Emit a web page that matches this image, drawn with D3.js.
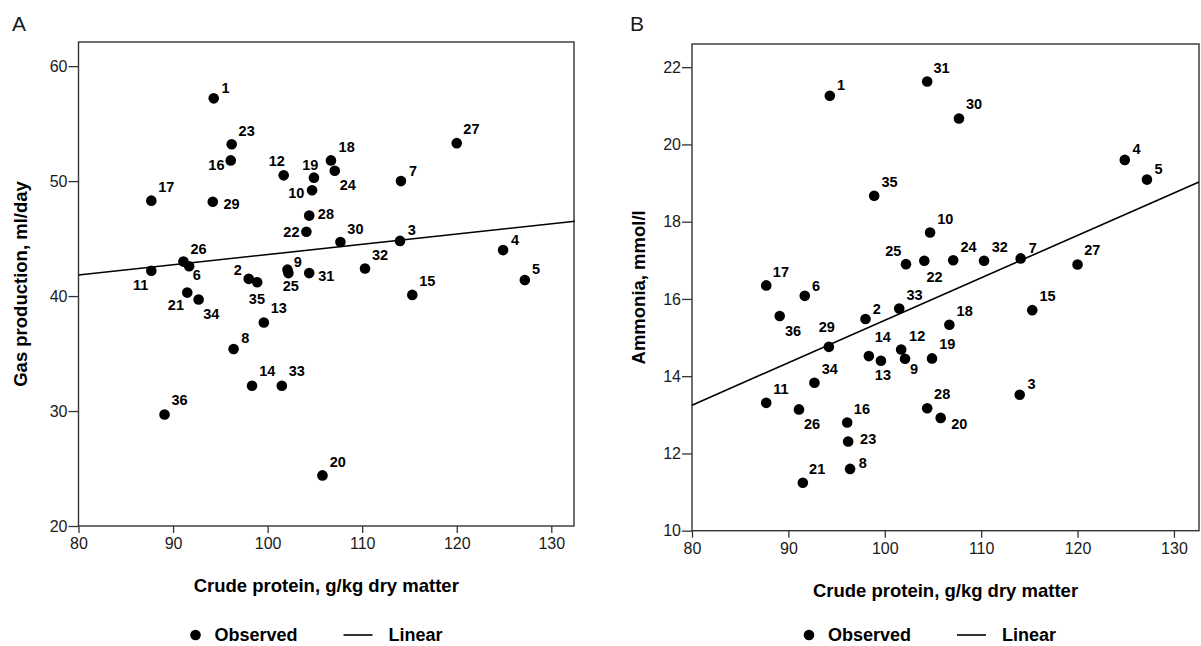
<!DOCTYPE html>
<html><head><meta charset="utf-8">
<script src="https://cdn.jsdelivr.net/npm/d3@7"></script>
<style>
body{margin:0;background:#fff}
svg{display:block}
text{font-family:"Liberation Sans",Arial,sans-serif}
</style>
</head><body>
<svg id="chart" width="1201" height="646"></svg>
<script>
// ---- data ----
const sampleIds = [1,2,3,4,5,6,7,8,9,10,11,12,13,14,15,16,17,18,19,20,21,22,23,24,25,26,27,28,29,30,31,32,33,34,35,36];
const crudeProtein = [94.3,98.0,114.0,124.9,127.2,91.7,114.1,96.4,102.1,104.7,87.7,101.7,99.6,98.35,115.3,96.1,87.7,106.7,104.9,105.8,91.5,104.1,96.2,107.1,102.2,91.1,120.0,104.4,94.2,107.7,104.4,110.3,101.5,92.7,98.9,89.1];
const gasProduction = [57.2,41.5,44.8,44.0,41.4,42.6,50.0,35.4,42.3,49.2,42.2,50.5,37.7,32.2,40.1,51.8,48.3,51.8,50.3,24.4,40.3,45.6,53.2,50.9,42.0,43.0,53.3,47.0,48.2,44.7,42.0,42.4,32.2,39.7,41.2,29.7];
const ammonia = [21.26,15.48,13.52,19.6,19.09,16.08,17.05,11.6,14.45,17.72,13.31,14.69,14.40,14.52,15.71,12.80,16.35,15.33,14.46,12.92,11.24,16.99,12.31,17.0,16.90,13.14,16.89,13.17,14.76,20.67,21.63,16.99,15.75,13.83,18.67,15.56];
const xTicks = [80,90,100,110,120,130];
const gasTicks = [20,30,40,50,60];
const ammoniaTicks = [10,12,14,16,18,20,22];
const gasFitX = [80,132.5];
const gasFitY = [41.83,46.51];
const ammoniaFitX = [80,132.6];
const ammoniaFitY = [13.25,19.03];
const legendLabels = ["Observed","Linear"];

// ---- label placement (style) : label centre offset from the dot ----
const labelOffsetA = [[11.7,-10.3],[-11,-9.3],[11.7,-11],[12,-10.7],[11.3,-10.7],[7.7,9],[12,-10.7],[11.7,-10.7],[10.3,-8.3],[-15.7,2],
 [-10.7,14.3],[-7,-15],[15,-14.3],[15.3,-14.7],[15,-14],[-14.3,4.3],[15,-14.3],[15.7,-13.3],[-3.7,-13],[15.3,-14],
 [-11.3,11.7],[-15,0],[15,-14],[13,14.3],[2.3,12.3],[15,-13.3],[14.7,-14],[16.7,-2.3],[18.7,1.7],[15,-13.7],
 [17,2.7],[15,-14],[15,-14.7],[12.7,14.7],[-0.3,16.3],[15,-14.3]];
const labelOffsetB = [[11.3,-11],[11.3,-10.3],[11.7,-10.7],[11.7,-11],[11.7,-11],[11.3,-10.3],[12,-10.7],[12.7,-6.3],[9,10.3],[15.3,-13.7],
 [14.7,-14.3],[16,-13.7],[2,14],[14,-19.7],[15.3,-14.3],[14.7,-14],[14.7,-13.3],[15.3,-14],[15.3,-14.3],[18.7,5.7],
 [14.3,-14],[10.3,16],[20,-3],[15.3,-13.7],[-12.7,-13.3],[13,14.7],[14.7,-14.3],[15,-14.3],[-2,-20.3],[15,-14.7],
 [14.3,-14],[15.7,-13.7],[15.3,-14],[15.3,-14.3],[15.3,-13.7],[13.3,14.7]];

const svg = d3.select("#chart");
const ink = "#1a1a1a";
const frameCol = "#333";

function panel(o){
  const g = svg.append("g");
  const x = d3.scaleLinear().domain(o.xDomain).range([o.left,o.right]);
  const y = d3.scaleLinear().domain(o.yDomain).range([o.bottom,o.top]);

  // y axis
  const ya = g.append("g").attr("transform",`translate(${o.left},0)`)
    .call(d3.axisLeft(y).tickValues(o.yTicks).tickSize(10).tickPadding(1).tickFormat(d3.format("d")));
  ya.select(".domain").remove();
  ya.selectAll("line").attr("stroke",frameCol).attr("stroke-width",1.3);
  ya.selectAll("text").attr("font-size",16).attr("fill",ink).attr("font-family","Liberation Sans, Arial, sans-serif");

  // x axis
  const xa = g.append("g").attr("transform",`translate(0,${o.bottom})`)
    .call(d3.axisBottom(x).tickValues(xTicks).tickSize(7).tickPadding(5).tickFormat(d3.format("d")));
  xa.select(".domain").remove();
  xa.selectAll("line").attr("stroke",frameCol).attr("stroke-width",1.3);
  xa.selectAll("text").attr("font-size",16).attr("fill",ink).attr("font-family","Liberation Sans, Arial, sans-serif");

  // frame
  g.append("rect").attr("x",o.left).attr("y",o.top).attr("width",o.right-o.left).attr("height",o.bottom-o.top)
    .attr("fill","none").attr("stroke",frameCol).attr("stroke-width",1.4);

  // fit line
  g.append("line")
    .attr("x1",x(o.fitX[0])).attr("y1",y(o.fitY[0]))
    .attr("x2",x(o.fitX[1])).attr("y2",y(o.fitY[1]))
    .attr("stroke","#000").attr("stroke-width",1.6);

  // points
  const pts = sampleIds.map((id,i)=>({id, x:crudeProtein[i], y:o.values[i], off:o.offsets[i]}));
  g.selectAll("circle.pt").data(pts).join("circle").attr("class","pt")
    .attr("cx",d=>x(d.x)).attr("cy",d=>y(d.y)).attr("r",5.3).attr("fill","#000");
  g.selectAll("text.lbl").data(pts).join("text").attr("class","lbl")
    .attr("x",d=>x(d.x)+d.off[0]).attr("y",d=>y(d.y)+d.off[1])
    .attr("dy","0.36em").attr("text-anchor","middle")
    .attr("font-size",14.5).attr("font-weight","bold").attr("fill","#000")
    .text(d=>d.id);

  // axis titles
  const cx = (o.left+o.right)/2, cy = (o.top+o.bottom)/2;
  g.append("text").attr("x",cx).attr("y",o.bottom+66).attr("text-anchor","middle")
    .attr("font-size",18.5).attr("font-weight","bold").attr("fill","#000").text(o.xTitle);
  g.append("text").attr("transform",`translate(${o.yTitleX},${cy}) rotate(-90)`).attr("text-anchor","middle")
    .attr("font-size",18.5).attr("font-weight","bold").attr("fill","#000").text(o.yTitle);

  // panel letter
  g.append("text").attr("x",o.letterX).attr("y",31).attr("font-size",21).attr("fill",ink).text(o.letter);

  // legend
  const ly = 635, lx = o.left + 117;
  g.append("circle").attr("cx",lx).attr("cy",ly).attr("r",5.3).attr("fill","#000");
  g.append("text").attr("x",lx+19).attr("y",ly).attr("dy","0.36em").attr("font-size",18).attr("font-weight","bold").text(legendLabels[0]);
  g.append("line").attr("x1",lx+148).attr("x2",lx+177).attr("y1",ly).attr("y2",ly).attr("stroke","#000").attr("stroke-width",1.6);
  g.append("text").attr("x",lx+193).attr("y",ly).attr("dy","0.36em").attr("font-size",18).attr("font-weight","bold").text(legendLabels[1]);
}

panel({left:78.5,right:574,top:42,bottom:526,xDomain:[80,132.4],yDomain:[20,62.1],yTicks:gasTicks,
  values:gasProduction,offsets:labelOffsetA,fitX:gasFitX,fitY:gasFitY,
  xTitle:"Crude protein, g/kg dry matter",yTitle:"Gas production, ml/day",yTitleX:27,letter:"A",letterX:12});
panel({left:692,right:1199,top:44,bottom:530.7,xDomain:[80,132.6],yDomain:[10,22.6],yTicks:ammoniaTicks,
  values:ammonia,offsets:labelOffsetB,fitX:ammoniaFitX,fitY:ammoniaFitY,
  xTitle:"Crude protein, g/kg dry matter",yTitle:"Ammonia, mmol/l",yTitleX:645,letter:"B",letterX:630});
</script>
</body></html>
